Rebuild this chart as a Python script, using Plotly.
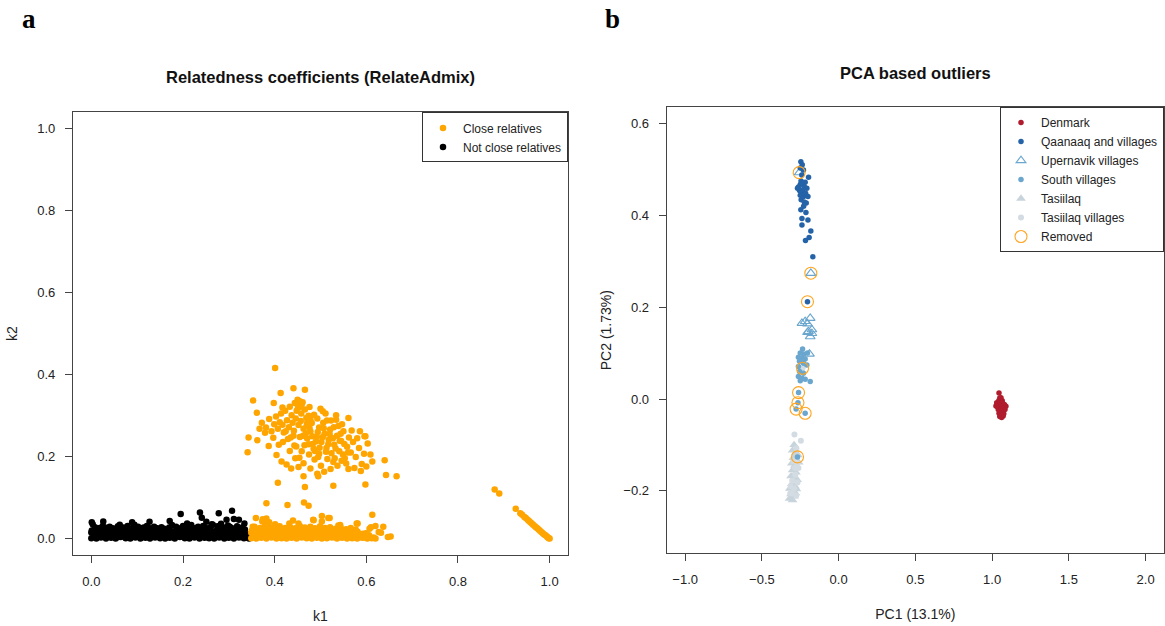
import plotly.graph_objects as go

# ---------------- Panel a: relatedness coefficients (k1, k2) ----------------
not_close_relatives = [
    # dense band, lower rows
    (0.000, 0.001), (0.011, 0.000), (0.021, 0.003), (0.032, 0.000), (0.043, 0.002), (0.053, 0.000),
    (0.064, 0.004), (0.075, 0.001), (0.085, 0.000), (0.096, 0.003), (0.107, 0.000), (0.118, 0.002),
    (0.128, 0.000), (0.139, 0.003), (0.150, 0.001), (0.161, 0.000), (0.171, 0.002), (0.182, 0.000),
    (0.193, 0.004), (0.204, 0.001), (0.214, 0.000), (0.225, 0.003), (0.236, 0.000), (0.247, 0.002),
    (0.257, 0.001), (0.268, 0.000), (0.279, 0.003), (0.290, 0.000), (0.300, 0.002), (0.311, 0.000),
    (0.322, 0.003), (0.333, 0.001), (0.344, 0.000),
    (0.006, 0.005), (0.017, 0.006), (0.027, 0.005), (0.038, 0.006), (0.048, 0.005), (0.059, 0.004),
    (0.070, 0.006), (0.080, 0.005), (0.091, 0.005), (0.102, 0.006), (0.112, 0.004), (0.123, 0.005),
    (0.134, 0.006), (0.145, 0.005), (0.155, 0.006), (0.166, 0.004), (0.177, 0.005), (0.187, 0.006),
    (0.198, 0.005), (0.209, 0.004), (0.220, 0.006), (0.230, 0.005), (0.241, 0.006), (0.252, 0.004),
    (0.263, 0.005), (0.273, 0.006), (0.284, 0.005), (0.295, 0.004), (0.306, 0.005), (0.317, 0.006),
    (0.327, 0.004), (0.339, 0.003),
    (0.005, 0.010), (0.016, 0.009), (0.027, 0.012), (0.037, 0.010), (0.048, 0.009), (0.059, 0.011),
    (0.069, 0.010), (0.080, 0.012), (0.091, 0.009), (0.101, 0.011), (0.112, 0.010), (0.123, 0.009),
    (0.133, 0.012), (0.144, 0.010), (0.155, 0.011), (0.166, 0.009), (0.176, 0.010), (0.187, 0.012),
    (0.198, 0.009), (0.209, 0.011), (0.219, 0.010), (0.230, 0.012), (0.241, 0.009), (0.252, 0.011),
    (0.262, 0.010), (0.273, 0.009), (0.284, 0.012), (0.295, 0.010), (0.305, 0.008), (0.316, 0.011),
    (0.327, 0.009), (0.338, 0.006),
    (0.000, 0.015), (0.010, 0.014), (0.021, 0.016), (0.032, 0.015), (0.042, 0.014), (0.053, 0.016),
    (0.064, 0.015), (0.074, 0.014), (0.085, 0.016), (0.096, 0.015), (0.106, 0.014), (0.117, 0.016),
    (0.128, 0.015), (0.138, 0.014), (0.149, 0.016), (0.160, 0.015), (0.170, 0.014), (0.181, 0.016),
    (0.192, 0.015), (0.202, 0.014), (0.213, 0.016), (0.224, 0.015), (0.235, 0.014), (0.245, 0.016),
    (0.256, 0.015), (0.267, 0.014), (0.277, 0.016), (0.288, 0.013), (0.299, 0.015), (0.309, 0.012),
    (0.320, 0.014), (0.331, 0.011),
    (0.001, 0.020), (0.012, 0.019), (0.022, 0.022), (0.033, 0.018), (0.044, 0.021), (0.055, 0.019),
    (0.065, 0.020), (0.076, 0.022), (0.087, 0.018), (0.097, 0.021), (0.108, 0.019), (0.119, 0.020),
    (0.130, 0.022), (0.140, 0.018), (0.151, 0.021), (0.162, 0.019), (0.172, 0.020), (0.183, 0.018),
    (0.194, 0.021), (0.205, 0.019), (0.215, 0.022), (0.226, 0.018), (0.237, 0.020), (0.248, 0.019),
    (0.258, 0.021), (0.269, 0.018), (0.280, 0.020), (0.291, 0.017), (0.301, 0.019), (0.312, 0.015),
    (0.323, 0.018), (0.334, 0.014), (0.343, 0.010),
    # ragged top of the band
    (0.003, 0.035), (0.008, 0.028), (0.018, 0.026), (0.025, 0.031), (0.030, 0.027), (0.040, 0.029),
    (0.047, 0.025), (0.058, 0.030), (0.062, 0.034), (0.070, 0.027), (0.079, 0.031), (0.090, 0.026),
    (0.094, 0.034), (0.102, 0.029), (0.114, 0.027), (0.121, 0.031), (0.126, 0.026), (0.137, 0.029),
    (0.144, 0.025), (0.153, 0.028), (0.159, 0.024), (0.170, 0.027), (0.176, 0.033), (0.185, 0.029),
    (0.196, 0.026), (0.200, 0.031), (0.211, 0.028), (0.218, 0.033), (0.228, 0.026), (0.233, 0.029),
    (0.244, 0.031), (0.250, 0.026), (0.260, 0.028), (0.265, 0.034), (0.275, 0.030), (0.283, 0.036),
    (0.289, 0.027), (0.298, 0.032), (0.306, 0.026), (0.318, 0.030), (0.326, 0.024), (0.335, 0.022),
    # scattered points above the band
    (0.001, 0.040), (0.026, 0.042), (0.089, 0.040), (0.127, 0.041), (0.171, 0.043), (0.195, 0.060),
    (0.209, 0.037), (0.237, 0.064), (0.241, 0.051), (0.251, 0.041), (0.263, 0.035), (0.278, 0.062),
    (0.281, 0.031), (0.295, 0.046), (0.302, 0.029), (0.307, 0.068), (0.311, 0.048), (0.322, 0.046),
    (0.318, 0.025), (0.325, 0.020), (0.334, 0.037), (0.330, 0.028),
]

close_relatives_band = [
    (0.349, 0.001), (0.360, 0.000), (0.371, 0.002), (0.382, 0.000), (0.393, 0.003), (0.404, 0.000),
    (0.415, 0.001), (0.426, 0.000), (0.437, 0.002), (0.448, 0.000), (0.459, 0.003), (0.470, 0.001),
    (0.481, 0.000), (0.492, 0.002), (0.503, 0.000), (0.514, 0.001), (0.525, 0.003), (0.536, 0.000),
    (0.547, 0.002), (0.558, 0.000), (0.569, 0.001), (0.580, 0.000), (0.591, 0.002), (0.602, 0.000),
    (0.612, 0.001), (0.620, 0.000),
    (0.354, 0.005), (0.365, 0.004), (0.376, 0.006), (0.387, 0.005), (0.398, 0.004), (0.409, 0.006),
    (0.420, 0.005), (0.431, 0.004), (0.442, 0.006), (0.453, 0.005), (0.464, 0.004), (0.475, 0.006),
    (0.486, 0.005), (0.497, 0.004), (0.508, 0.006), (0.519, 0.005), (0.530, 0.004), (0.541, 0.005),
    (0.552, 0.004), (0.563, 0.005), (0.574, 0.003), (0.585, 0.004), (0.596, 0.003), (0.607, 0.004),
    (0.616, 0.003),
    (0.354, 0.010), (0.365, 0.012), (0.376, 0.009), (0.387, 0.011), (0.398, 0.010), (0.409, 0.012),
    (0.420, 0.009), (0.431, 0.011), (0.442, 0.010), (0.453, 0.012), (0.464, 0.009), (0.475, 0.011),
    (0.486, 0.010), (0.497, 0.012), (0.508, 0.009), (0.519, 0.011), (0.530, 0.010), (0.541, 0.008),
    (0.552, 0.011), (0.563, 0.009), (0.574, 0.007), (0.585, 0.010), (0.596, 0.006), (0.606, 0.008),
    (0.349, 0.014), (0.360, 0.015), (0.371, 0.013), (0.382, 0.015), (0.393, 0.014), (0.404, 0.016),
    (0.415, 0.014), (0.426, 0.015), (0.437, 0.013), (0.448, 0.015), (0.459, 0.014), (0.470, 0.016),
    (0.481, 0.014), (0.492, 0.015), (0.503, 0.013), (0.514, 0.015), (0.525, 0.013), (0.536, 0.014),
    (0.547, 0.011), (0.558, 0.013), (0.569, 0.010), (0.580, 0.012), (0.591, 0.009), (0.602, 0.010),
    (0.350, 0.020), (0.361, 0.018), (0.372, 0.021), (0.383, 0.019), (0.394, 0.022), (0.405, 0.018),
    (0.416, 0.020), (0.427, 0.017), (0.438, 0.021), (0.449, 0.019), (0.460, 0.022), (0.471, 0.018),
    (0.482, 0.020), (0.493, 0.017), (0.504, 0.021), (0.515, 0.018), (0.526, 0.016), (0.537, 0.020),
    (0.548, 0.015), (0.559, 0.018), (0.570, 0.014), (0.581, 0.017), (0.592, 0.012),
    (0.356, 0.029), (0.368, 0.026), (0.379, 0.031), (0.390, 0.027), (0.402, 0.024), (0.411, 0.030),
    (0.423, 0.026), (0.434, 0.028), (0.445, 0.025), (0.455, 0.031), (0.466, 0.027), (0.478, 0.029),
    (0.488, 0.025), (0.499, 0.030), (0.510, 0.026), (0.521, 0.028), (0.533, 0.024), (0.544, 0.027),
    (0.556, 0.023), (0.566, 0.026), (0.577, 0.022),
    # scattered above the band
    (0.382, 0.086), (0.428, 0.082), (0.464, 0.088), (0.474, 0.080), (0.359, 0.050), (0.374, 0.047),
    (0.384, 0.040), (0.352, 0.029), (0.401, 0.035), (0.432, 0.037), (0.452, 0.037), (0.485, 0.045),
    (0.503, 0.055), (0.520, 0.050), (0.503, 0.042), (0.543, 0.033), (0.581, 0.037), (0.613, 0.058),
    (0.620, 0.031), (0.637, 0.029), (0.632, 0.014), (0.653, 0.005), (0.647, 0.004), (0.599, 0.013),
    (0.568, 0.021), (0.610, 0.028), (0.517, 0.050), (0.484, 0.046), (0.579, 0.037), (0.607, 0.024),
    (0.627, 0.016), (0.382, 0.049), (0.373, 0.042), (0.388, 0.040), (0.539, 0.032), (0.440, 0.044),
]

close_relatives_cluster = [
    # outer points
    (0.401, 0.416), (0.353, 0.337), (0.413, 0.355), (0.441, 0.367), (0.466, 0.363), (0.361, 0.307),
    (0.343, 0.247), (0.341, 0.211), (0.398, 0.331), (0.417, 0.320), (0.455, 0.335), (0.459, 0.327),
    (0.451, 0.321), (0.476, 0.321), (0.505, 0.311), (0.561, 0.294), (0.534, 0.290), (0.596, 0.250),
    (0.640, 0.191), (0.643, 0.155), (0.666, 0.152), (0.407, 0.136), (0.466, 0.126), (0.528, 0.129),
    (0.598, 0.132), (0.463, 0.152), (0.495, 0.152),
    # upper-left part
    (0.372, 0.283), (0.381, 0.271), (0.388, 0.292), (0.393, 0.262), (0.379, 0.258), (0.399, 0.279),
    (0.403, 0.298), (0.407, 0.268), (0.414, 0.305), (0.411, 0.284), (0.420, 0.259), (0.423, 0.312),
    (0.427, 0.289), (0.431, 0.272), (0.433, 0.322), (0.437, 0.301), (0.439, 0.283), (0.442, 0.263),
    (0.444, 0.331), (0.448, 0.312), (0.446, 0.293), (0.452, 0.277), (0.450, 0.339), (0.455, 0.321),
    (0.458, 0.305), (0.457, 0.287), (0.461, 0.333), (0.463, 0.268), (0.466, 0.315), (0.469, 0.294),
    (0.471, 0.282), (0.462, 0.251), (0.474, 0.300), (0.478, 0.291), (0.476, 0.270), (0.441, 0.251),
    (0.429, 0.243), (0.418, 0.236), (0.409, 0.229), (0.397, 0.246), (0.387, 0.226), (0.367, 0.268),
    (0.362, 0.240), (0.404, 0.204), (0.415, 0.188), (0.426, 0.181), (0.436, 0.171), (0.452, 0.175),
    (0.445, 0.196), (0.433, 0.214), (0.443, 0.227), (0.435, 0.247), (0.424, 0.262), (0.417, 0.278),
    # central mass
    (0.471, 0.244), (0.483, 0.231), (0.478, 0.262), (0.492, 0.248), (0.488, 0.214), (0.497, 0.271),
    (0.502, 0.236), (0.495, 0.199), (0.509, 0.256), (0.513, 0.221), (0.506, 0.283), (0.518, 0.241),
    (0.524, 0.208), (0.521, 0.266), (0.530, 0.229), (0.536, 0.251), (0.528, 0.187), (0.541, 0.213),
    (0.545, 0.238), (0.550, 0.262), (0.553, 0.196), (0.558, 0.224), (0.547, 0.279), (0.562, 0.247),
    (0.566, 0.210), (0.539, 0.275), (0.515, 0.194), (0.501, 0.178), (0.487, 0.193), (0.475, 0.205),
    (0.465, 0.228), (0.468, 0.257), (0.459, 0.213), (0.481, 0.282), (0.493, 0.293), (0.511, 0.305),
    (0.523, 0.288), (0.534, 0.301), (0.544, 0.256), (0.527, 0.245), (0.517, 0.230), (0.505, 0.248),
    (0.490, 0.237), (0.482, 0.250), (0.498, 0.222), (0.512, 0.212), (0.533, 0.220), (0.549, 0.205),
    (0.556, 0.183), (0.571, 0.236), (0.577, 0.199), (0.568, 0.264), (0.584, 0.221), (0.590, 0.182),
    (0.580, 0.245), (0.595, 0.207), (0.603, 0.232), (0.574, 0.172), (0.561, 0.170), (0.537, 0.178),
    (0.522, 0.170), (0.508, 0.163), (0.493, 0.158), (0.478, 0.171), (0.463, 0.184), (0.454, 0.197),
    (0.447, 0.225), (0.455, 0.248), (0.470, 0.276), (0.486, 0.302), (0.500, 0.317), (0.514, 0.288),
    (0.529, 0.272), (0.542, 0.239), (0.552, 0.231), (0.520, 0.255), (0.507, 0.269), (0.494, 0.260),
    (0.485, 0.219), (0.474, 0.230), (0.497, 0.207), (0.531, 0.196), (0.546, 0.190), (0.560, 0.210),
    (0.586, 0.262), (0.598, 0.250), (0.609, 0.205), (0.613, 0.188), (0.588, 0.165), (0.600, 0.176),
]

close_relatives_diagonal = [
    (0.880, 0.120), (0.890, 0.110), (0.926, 0.073), (0.936, 0.062), (0.940, 0.058), (0.945, 0.053),
    (0.948, 0.050), (0.952, 0.046), (0.955, 0.043), (0.958, 0.040), (0.961, 0.037), (0.964, 0.034),
    (0.967, 0.031), (0.970, 0.028), (0.973, 0.025), (0.976, 0.022), (0.979, 0.019), (0.982, 0.016),
    (0.985, 0.013), (0.988, 0.010), (0.991, 0.008), (0.994, 0.005), (0.996, 0.003), (0.998, 0.001),
    (1.000, 0.000),
]

k1_ticks = [0.0, 0.2, 0.4, 0.6, 0.8, 1.0]
k2_ticks = [0.0, 0.2, 0.4, 0.6, 0.8, 1.0]

# ---------------- Panel b: PCA (PC1, PC2) ----------------
denmark = [
    (1.045, 0.013), (1.050, 0.002), (1.058, 0.003), (1.044, -0.003), (1.055, -0.005), (1.066, -0.004),
    (1.030, -0.008), (1.040, -0.010), (1.050, -0.011), (1.060, -0.009), (1.070, -0.010), (1.080, -0.012),
    (1.025, -0.015), (1.035, -0.017), (1.047, -0.016), (1.058, -0.018), (1.068, -0.015), (1.078, -0.019),
    (1.090, -0.016), (1.040, -0.023), (1.052, -0.025), (1.062, -0.022), (1.072, -0.026), (1.084, -0.023),
    (1.045, -0.031), (1.056, -0.033), (1.066, -0.030), (1.076, -0.032), (1.050, -0.038), (1.062, -0.040),
    (1.072, -0.037), (1.058, -0.027), (1.070, -0.035),
]
qaanaaq = [
    (-0.246, 0.517), (-0.237, 0.510), (-0.250, 0.503), (-0.229, 0.499), (-0.196, 0.483), (-0.268, 0.459),
    (-0.250, 0.467), (-0.235, 0.470), (-0.224, 0.463), (-0.255, 0.454), (-0.207, 0.459), (-0.239, 0.450),
    (-0.200, 0.441), (-0.229, 0.441), (-0.244, 0.434), (-0.224, 0.429), (-0.211, 0.427), (-0.246, 0.412),
    (-0.213, 0.406), (-0.239, 0.393), (-0.200, 0.390), (-0.239, 0.379), (-0.181, 0.366), (-0.192, 0.352),
    (-0.216, 0.345), (-0.168, 0.310), (-0.203, 0.212), (-0.262, 0.462), (-0.245, 0.475), (-0.218, 0.472),
    (-0.232, 0.456), (-0.215, 0.448), (-0.250, 0.444), (-0.228, 0.420), (-0.240, 0.488),
]
upernavik = [
    (-0.257, 0.493), (-0.181, 0.274), (-0.185, 0.176), (-0.218, 0.169), (-0.239, 0.165), (-0.203, 0.164),
    (-0.174, 0.151), (-0.203, 0.145), (-0.185, 0.136), (-0.196, 0.147), (-0.174, 0.143), (-0.190, 0.098),
]
south_villages = [
    (-0.235, 0.109), (-0.250, 0.100), (-0.229, 0.098), (-0.262, 0.091), (-0.239, 0.089), (-0.218, 0.087),
    (-0.255, 0.082), (-0.229, 0.078), (-0.262, 0.071), (-0.207, 0.074), (-0.255, 0.060), (-0.229, 0.056),
    (-0.262, 0.049), (-0.239, 0.045), (-0.218, 0.043), (-0.250, 0.040), (-0.185, 0.038), (-0.203, 0.100),
    (-0.261, 0.014), (-0.265, -0.008), (-0.277, -0.022), (-0.218, -0.031), (-0.268, -0.126),
]
tasiilaq = [
    (-0.290, -0.100), (-0.300, -0.112), (-0.280, -0.118), (-0.295, -0.128), (-0.265, -0.122),
    (-0.305, -0.140), (-0.285, -0.145), (-0.260, -0.138), (-0.300, -0.155), (-0.278, -0.160),
    (-0.310, -0.168), (-0.290, -0.172), (-0.270, -0.176), (-0.305, -0.185), (-0.285, -0.190),
    (-0.318, -0.195), (-0.295, -0.200), (-0.275, -0.196), (-0.310, -0.207), (-0.290, -0.212),
    (-0.320, -0.217), (-0.300, -0.220), (-0.282, -0.205),
]
tasiilaq_villages = [
    (-0.288, -0.077), (-0.246, -0.091), (-0.275, -0.108), (-0.262, -0.150), (-0.296, -0.135),
    (-0.282, -0.165), (-0.302, -0.178), (-0.268, -0.182), (-0.290, -0.195), (-0.312, -0.190),
    (-0.276, -0.210), (-0.298, -0.205), (-0.315, -0.205), (-0.285, -0.150), (-0.270, -0.140),
    (-0.235, 0.067),
]
removed = [
    (-0.257, 0.493), (-0.181, 0.274), (-0.203, 0.212), (-0.235, 0.067), (-0.261, 0.014),
    (-0.265, -0.008), (-0.277, -0.022), (-0.218, -0.031), (-0.268, -0.126),
]

pc1_ticks = [-1.0, -0.5, 0.0, 0.5, 1.0, 1.5, 2.0]
pc2_ticks = [-0.2, 0.0, 0.2, 0.4, 0.6]


def xs(pts):
    return [p[0] for p in pts]


def ys(pts):
    return [p[1] for p in pts]


FONT = "Liberation Sans, Arial, sans-serif"
SERIF = "Liberation Serif, DejaVu Serif, serif"
AXC = "#444444"

fig = go.Figure()

close_all = close_relatives_band + close_relatives_cluster + close_relatives_diagonal
fig.add_trace(go.Scatter(
    x=xs(not_close_relatives), y=ys(not_close_relatives), mode="markers", name="Not close relatives",
    marker=dict(color="black", size=6.5), xaxis="x", yaxis="y", legend="legend", legendrank=2))
fig.add_trace(go.Scatter(
    x=xs(close_all), y=ys(close_all), mode="markers", name="Close relatives",
    marker=dict(color="#FFA500", size=6.5), xaxis="x", yaxis="y", legend="legend", legendrank=1))

groups = [
    ("Tasiilaq", tasiilaq, dict(color="#C8D4DC", size=8.5, symbol="triangle-up"), 5),
    ("Tasiilaq villages", tasiilaq_villages, dict(color="#D3DCE2", size=6, symbol="circle"), 6),
    ("South villages", south_villages, dict(color="#6AA6CE", size=5.5, symbol="circle"), 4),
    ("Upernavik villages", upernavik, dict(color="#6AA6CE", size=8.5, symbol="triangle-up-open",
                                           line=dict(width=1.1)), 3),
    ("Qaanaaq and villages", qaanaaq, dict(color="#2463A8", size=5.5, symbol="circle"), 2),
    ("Denmark", denmark, dict(color="#B01C2E", size=5.5, symbol="circle"), 1),
    ("Removed", removed, dict(color="#FFA51F", size=12, symbol="circle-open", line=dict(width=1.1)), 7),
]
for name, pts, mk, rank in groups:
    fig.add_trace(go.Scatter(x=xs(pts), y=ys(pts), mode="markers", name=name, marker=mk,
                             xaxis="x2", yaxis="y2", legend="legend2", legendrank=rank))

axis_common = dict(
    showgrid=False, zeroline=False, showline=True, mirror=True, linecolor=AXC, linewidth=1.2,
    ticks="outside", ticklen=7, tickwidth=1, tickcolor=AXC, tickformat=".1f",
    tickfont=dict(family=FONT, size=13, color="#222222"), ticklabelstandoff=7,
)

legend_common = dict(xanchor="right", yanchor="top", bgcolor="white", bordercolor="#333333",
                     borderwidth=1, itemsizing="trace", itemwidth=30, tracegroupgap=0,
                     font=dict(family=FONT, size=12, color="#222222"))

fig.update_layout(
    width=1165, height=626,
    margin=dict(l=73, r=1, t=107, b=71),
    paper_bgcolor="white", plot_bgcolor="white",
    font=dict(family=FONT, color="#222222"),
    xaxis=dict(domain=[0.0, 0.4537], range=[-0.04, 1.04], tickvals=k1_ticks, anchor="y",
               title=dict(text="k1", font=dict(family=FONT, size=14), standoff=23), **axis_common),
    yaxis=dict(domain=[0.0, 0.988], range=[-0.04, 1.04], tickvals=k2_ticks, anchor="x",
               title=dict(text="k2", font=dict(family=FONT, size=14), standoff=16), **axis_common),
    xaxis2=dict(domain=[0.5442, 1.0], range=[-1.12, 2.12], tickvals=pc1_ticks, anchor="y2",
                title=dict(text="PC1 (13.1%)", font=dict(family=FONT, size=14), standoff=23), **axis_common),
    yaxis2=dict(domain=[0.0038, 1.0], range=[-0.336, 0.636], tickvals=pc2_ticks, anchor="x2",
                title=dict(text="PC2 (1.73%)", font=dict(family=FONT, size=14), standoff=8), **axis_common),
    legend=dict(x=0.4537, y=0.988, **legend_common),
    legend2=dict(x=1.0, y=1.0, **legend_common),
    showlegend=True,
    annotations=[
        dict(text="<b>Relatedness coefficients (RelateAdmix)</b>", xref="x domain", yref="y domain",
             x=0.5, y=1.0, yshift=35, xanchor="center", yanchor="middle", showarrow=False,
             font=dict(family=FONT, size=16.5, color="#111111")),
        dict(text="<b>PCA based outliers</b>", xref="x2 domain", yref="y2 domain",
             x=0.5, y=1.0, yshift=34, xanchor="center", yanchor="middle", showarrow=False,
             font=dict(family=FONT, size=16.5, color="#111111")),
        dict(text="<b>a</b>", xref="paper", yref="paper", x=-0.0486, y=1.2344, xanchor="left",
             yanchor="top", showarrow=False, font=dict(family=SERIF, size=27, color="black")),
        dict(text="<b>b</b>", xref="paper", yref="paper", x=0.4858, y=1.2344, xanchor="left",
             yanchor="top", showarrow=False, font=dict(family=SERIF, size=27, color="black")),
    ],
)

# place the figure at the page's top-left corner (no default 8px body margin), no mode bar
fig.write_html("out.html", config={"displayModeBar": False},
               post_script="document.body.style.margin='0px';document.body.style.padding='0px';")
